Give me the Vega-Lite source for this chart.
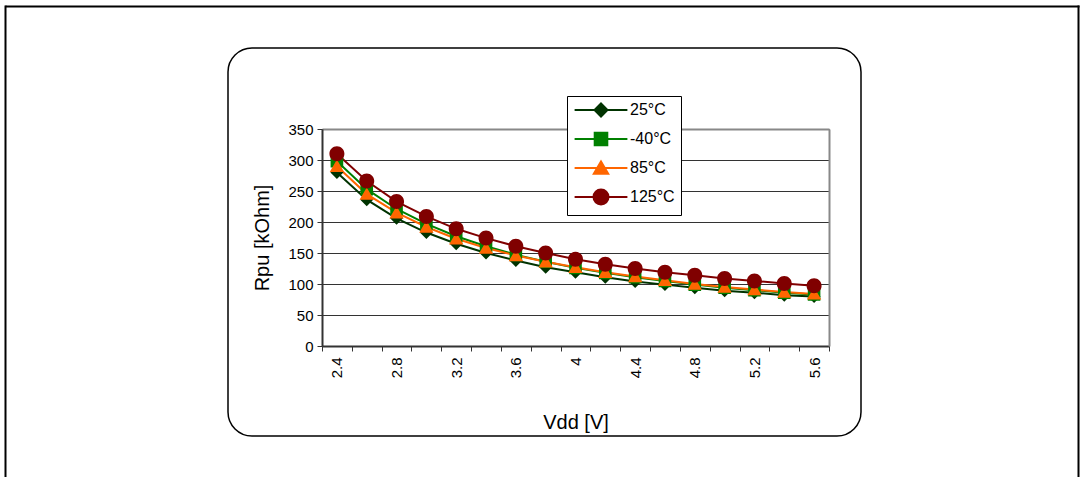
{
  "$schema": "https://vega.github.io/schema/vega-lite/v6.json",
  "width": 633,
  "height": 388,
  "autosize": {"type": "none"},
  "padding": {"left": 228, "top": 48, "right": 222, "bottom": 41},
  "background": "white",
  "view": {"stroke": "#000", "strokeWidth": 1.5, "cornerRadius": 24, "fill": "white"},
  "config": {
    "font": "Liberation Sans",
    "axis": {"labelColor": "#000", "titleColor": "#000", "titleFontWeight": "normal", "labelFont": "Liberation Sans", "titleFont": "Liberation Sans"},
    "legend": {"labelFont": "Liberation Sans"}
  },
  "data": {
    "values": [
      {"vdd": 2.4, "temp": "25°C", "rpu": 280}, {"vdd": 2.6, "temp": "25°C", "rpu": 236}, {"vdd": 2.8, "temp": "25°C", "rpu": 206}, {"vdd": 3.0, "temp": "25°C", "rpu": 183}, {"vdd": 3.2, "temp": "25°C", "rpu": 165}, {"vdd": 3.4, "temp": "25°C", "rpu": 150}, {"vdd": 3.6, "temp": "25°C", "rpu": 138}, {"vdd": 3.8, "temp": "25°C", "rpu": 127}, {"vdd": 4.0, "temp": "25°C", "rpu": 119}, {"vdd": 4.2, "temp": "25°C", "rpu": 111}, {"vdd": 4.4, "temp": "25°C", "rpu": 104}, {"vdd": 4.6, "temp": "25°C", "rpu": 99}, {"vdd": 4.8, "temp": "25°C", "rpu": 94}, {"vdd": 5.0, "temp": "25°C", "rpu": 89}, {"vdd": 5.2, "temp": "25°C", "rpu": 86}, {"vdd": 5.4, "temp": "25°C", "rpu": 82}, {"vdd": 5.6, "temp": "25°C", "rpu": 80},
      {"vdd": 2.4, "temp": "-40°C", "rpu": 298}, {"vdd": 2.6, "temp": "-40°C", "rpu": 253}, {"vdd": 2.8, "temp": "-40°C", "rpu": 221}, {"vdd": 3.0, "temp": "-40°C", "rpu": 197}, {"vdd": 3.2, "temp": "-40°C", "rpu": 177}, {"vdd": 3.4, "temp": "-40°C", "rpu": 161}, {"vdd": 3.6, "temp": "-40°C", "rpu": 147}, {"vdd": 3.8, "temp": "-40°C", "rpu": 136}, {"vdd": 4.0, "temp": "-40°C", "rpu": 126}, {"vdd": 4.2, "temp": "-40°C", "rpu": 118}, {"vdd": 4.4, "temp": "-40°C", "rpu": 111}, {"vdd": 4.6, "temp": "-40°C", "rpu": 105}, {"vdd": 4.8, "temp": "-40°C", "rpu": 99}, {"vdd": 5.0, "temp": "-40°C", "rpu": 94}, {"vdd": 5.2, "temp": "-40°C", "rpu": 90}, {"vdd": 5.4, "temp": "-40°C", "rpu": 86}, {"vdd": 5.6, "temp": "-40°C", "rpu": 83},
      {"vdd": 2.4, "temp": "85°C", "rpu": 290}, {"vdd": 2.6, "temp": "85°C", "rpu": 245}, {"vdd": 2.8, "temp": "85°C", "rpu": 215}, {"vdd": 3.0, "temp": "85°C", "rpu": 192}, {"vdd": 3.2, "temp": "85°C", "rpu": 173}, {"vdd": 3.4, "temp": "85°C", "rpu": 158}, {"vdd": 3.6, "temp": "85°C", "rpu": 146}, {"vdd": 3.8, "temp": "85°C", "rpu": 136}, {"vdd": 4.0, "temp": "85°C", "rpu": 127}, {"vdd": 4.2, "temp": "85°C", "rpu": 119}, {"vdd": 4.4, "temp": "85°C", "rpu": 112}, {"vdd": 4.6, "temp": "85°C", "rpu": 106}, {"vdd": 4.8, "temp": "85°C", "rpu": 100}, {"vdd": 5.0, "temp": "85°C", "rpu": 95}, {"vdd": 5.2, "temp": "85°C", "rpu": 91}, {"vdd": 5.4, "temp": "85°C", "rpu": 87}, {"vdd": 5.6, "temp": "85°C", "rpu": 84},
      {"vdd": 2.4, "temp": "125°C", "rpu": 310}, {"vdd": 2.6, "temp": "125°C", "rpu": 266}, {"vdd": 2.8, "temp": "125°C", "rpu": 233}, {"vdd": 3.0, "temp": "125°C", "rpu": 209}, {"vdd": 3.2, "temp": "125°C", "rpu": 189}, {"vdd": 3.4, "temp": "125°C", "rpu": 174}, {"vdd": 3.6, "temp": "125°C", "rpu": 161}, {"vdd": 3.8, "temp": "125°C", "rpu": 150}, {"vdd": 4.0, "temp": "125°C", "rpu": 140}, {"vdd": 4.2, "temp": "125°C", "rpu": 132}, {"vdd": 4.4, "temp": "125°C", "rpu": 125}, {"vdd": 4.6, "temp": "125°C", "rpu": 119}, {"vdd": 4.8, "temp": "125°C", "rpu": 114}, {"vdd": 5.0, "temp": "125°C", "rpu": 109}, {"vdd": 5.2, "temp": "125°C", "rpu": 105}, {"vdd": 5.4, "temp": "125°C", "rpu": 101}, {"vdd": 5.6, "temp": "125°C", "rpu": 97}
    ]
  },
  "layer": [
    {
      "mark": {"type": "line", "strokeWidth": 2},
      "encoding": {
        "x": {
          "field": "vdd", "type": "ordinal",
          "scale": {"type": "band", "range": [94, 601], "paddingInner": 0, "paddingOuter": 0},
          "axis": {
            "orient": "bottom", "offset": -90, "title": "Vdd [V]",
            "labelAngle": 270, "labelExpr": "round(datum.value*10) % 4 == 0 ? datum.label : ''",
            "labelOverlap": false, "labelFlush": false,
            "tickBand": "extent", "tickSize": 5, "tickColor": "#333", "tickWidth": 1,
            "domainColor": "#333", "domainWidth": 2,
            "labelFontSize": 15, "labelPadding": 6,
            "titleFontSize": 20, "titleX": 347.5, "titleY": 76, "titleBaseline": "middle", "titleAlign": "center",
            "grid": false
          }
        },
        "y": {
          "field": "rpu", "type": "quantitative",
          "scale": {"domain": [0, 350], "range": [298, 81], "nice": false},
          "axis": {
            "orient": "left", "offset": -94, "title": "Rpu [kOhm]",
            "values": [0, 50, 100, 150, 200, 250, 300, 350],
            "grid": true, "gridColor": "#333", "gridWidth": 1,
            "tickSize": 5, "tickColor": "#333", "domainColor": "#333", "domainWidth": 2,
            "labelFontSize": 15, "labelPadding": 4,
            "titleFontSize": 20, "titleAngle": 270, "titleX": -60, "titleY": 189.5, "titleBaseline": "middle", "titleAlign": "center"
          }
        },
        "color": {
          "field": "temp", "type": "nominal",
          "scale": {"domain": ["25°C", "-40°C", "85°C", "125°C"], "range": ["#003300", "#008000", "#ff6600", "#800000"]},
          "legend": {
            "title": null, "orient": "none", "legendX": 339, "legendY": 48,
            "strokeColor": "#000", "fillColor": "white", "padding": 6,
            "labelFontSize": 16, "labelColor": "#000",
            "symbolSize": 144, "symbolStrokeWidth": 2, "symbolOffset": 20, "labelOffset": 21, "rowPadding": 7
          }
        }
      }
    },
    {
      "mark": {"type": "point", "filled": true, "opacity": 1, "strokeWidth": 0, "size": 144},
      "encoding": {
        "x": {
          "field": "vdd", "type": "ordinal",
          "scale": {"type": "band", "range": [94, 601], "paddingInner": 0, "paddingOuter": 0},
          "axis": {"orient": "top", "offset": -81, "domainColor": "#888", "domainWidth": 2, "ticks": false, "labels": false, "grid": false, "title": null}
        },
        "y": {
          "field": "rpu", "type": "quantitative",
          "scale": {"domain": [0, 350], "range": [298, 81], "nice": false},
          "axis": {"orient": "right", "offset": -32, "domainColor": "#888", "domainWidth": 2, "ticks": false, "labels": false, "grid": false, "title": null}
        },
        "color": {
          "field": "temp", "type": "nominal",
          "legend": {
            "title": null, "orient": "none", "legendX": 339, "legendY": 48,
            "strokeColor": "#000", "fillColor": "white", "padding": 6,
            "labelFontSize": 16, "labelColor": "#000",
            "symbolSize": 144, "symbolStrokeWidth": 2, "symbolOffset": 20, "labelOffset": 21, "rowPadding": 7
          }
        },
        "stroke": {
          "field": "temp", "type": "nominal",
          "scale": {"domain": ["25°C", "-40°C", "85°C", "125°C"], "range": ["#003300", "#008000", "#ff6600", "#800000"]},
          "legend": {
            "title": null, "orient": "none", "legendX": 339, "legendY": 48,
            "strokeColor": "#000", "fillColor": "white", "padding": 6,
            "labelFontSize": 16, "labelColor": "#000",
            "symbolSize": 144, "symbolStrokeWidth": 2, "symbolOffset": 20, "labelOffset": 21, "rowPadding": 7
          }
        },
        "shape": {
          "field": "temp", "type": "nominal",
          "scale": {
            "domain": ["25°C", "-40°C", "85°C", "125°C"],
            "range": [
              "M-4.4,0H4.4M0,-1.08L1.08,0L0,1.08L-1.08,0Z",
              "M-4.4,0H4.4M-1.05,-1.05H1.05V1.05H-1.05Z",
              "M-4.4,0H4.4M0,-1.1L1.2,0.95H-1.2Z",
              "M-4.4,0H4.4M-1.25,0A1.25,1.25,0,1,1,1.25,0A1.25,1.25,0,1,1,-1.25,0Z"
            ]
          },
          "legend": {
            "title": null, "orient": "none", "legendX": 339, "legendY": 48,
            "strokeColor": "#000", "fillColor": "white", "padding": 6,
            "labelFontSize": 16, "labelColor": "#000",
            "symbolSize": 144, "symbolStrokeWidth": 2, "symbolOffset": 20, "labelOffset": 21, "rowPadding": 7
          }
        }
      }
    },
    {
      "data": {"values": [{}]},
      "mark": {"type": "point", "opacity": 0},
      "encoding": {
        "x": {"datum": 0, "type": "quantitative", "scale": {"domain": [0, 1], "range": [-223, 851]},
          "axis": {"orient": "top", "offset": 42, "domainColor": "#000", "domainWidth": 2, "ticks": false, "labels": false, "grid": false, "title": null}},
        "y": {"datum": 0, "type": "quantitative", "scale": {"domain": [0, 1], "range": [540, -43]},
          "axis": {"orient": "left", "offset": 223, "domainColor": "#000", "domainWidth": 2, "ticks": false, "labels": false, "grid": false, "title": null}}
      }
    },
    {
      "data": {"values": [{}]},
      "mark": {"type": "point", "opacity": 0},
      "encoding": {
        "x": {"datum": 0, "type": "quantitative", "scale": {"domain": [0, 1], "range": [-223, 851]}, "axis": null},
        "y": {"datum": 0, "type": "quantitative", "scale": {"domain": [0, 1], "range": [540, -43]},
          "axis": {"orient": "right", "offset": 217, "domainColor": "#000", "domainWidth": 2, "ticks": false, "labels": false, "grid": false, "title": null}}
      }
    }
  ],
  "resolve": {"scale": {"x": "independent", "y": "independent"}, "axis": {"x": "independent", "y": "independent"}}
}
